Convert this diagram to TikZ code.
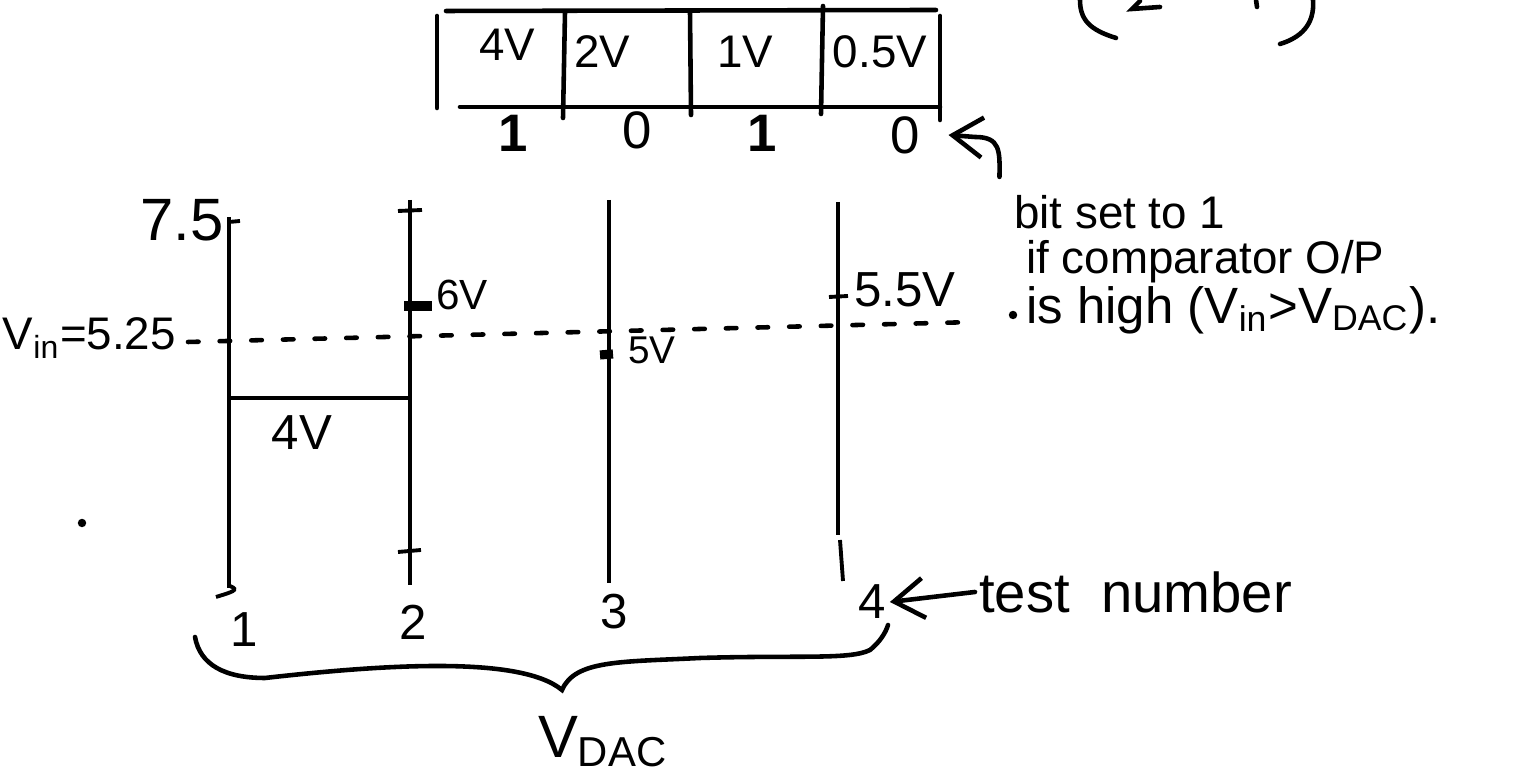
\documentclass[tikz,border=0pt]{standalone}
\usepackage{fontspec}
\setmainfont{Liberation Sans}
\usetikzlibrary{arrows.meta, positioning, calc}

\begin{document}
\begin{tikzpicture}[x=0.01cm, y=-0.01cm,
		pen/.style={line width=1.3pt, line cap=round},
		rail/.style={line width=1.1pt},
		thickmark/.style={line width=2.6pt},
		hand/.style={font=\fontsize{14}{16}\selectfont, inner sep=1pt},
		cellv/.style={font=\fontsize{13}{15}\selectfont, inner sep=1pt},
		bitv/.style={font=\fontsize{15}{16}\selectfont, inner sep=2pt},
		notev/.style={font=\fontsize{13}{15}\selectfont, inner sep=1pt, anchor=west},
		line/.style={-{Straight Barb[length=3mm, width=4mm]}, pen}
		]
		\useasboundingbox (0,0) rectangle (1518,771);
		
		% 1. Register
		\draw[pen] (446,11) -- (936,10);
		\draw[pen] (460,107) -- (940,107);
		\draw[pen] (437,16) -- (437,108);
		\draw[pen] (565,12) -- (563,118);
		\draw[pen] (690,12) -- (691,115);
		\draw[pen] (823,6) -- (821,114);
		\draw[pen] (940,16) -- (940,120);
		\node[cellv] (c4) at (507,45) {4V};
		\node[cellv] (c2) at (602,52) {2V};
		\node[cellv] (c1) at (745,52) {1V};
		\node[cellv] (c05) at (880,52) {0.5V};
		
		% 2. Bits
		\node[bitv] (b4) at (513,133) {\textbf{1}};
		\node[bitv] (b2) at (637,130) {0};
		\node[bitv] (b1) at (762,133) {\textbf{1}};
		\node[bitv] (b05) at (905,135) {0};
		
		% 3. Note
		\node[notev] (note1) at (1010,212) {bit set to 1};
		\node[notev] (note2) at (1022,262) {if comparator O/P};
		\node[notev, font=\fontsize{14.5}{17}\selectfont] (note3) at (1022,310) {is high (V\textsubscript{in}>V\textsubscript{DAC}).};
		\draw[line] ([xshift=-3pt, yshift=4pt]note1.north west)
		.. controls (1000,150) and (1000,137) .. (975,137) -- ([xshift=6pt]b05.east);
		
		% 4. Test rails
		\draw[rail] (229,217) -- (229,588);
		\draw[rail] (410,200) -- (410,585);
		\draw[rail] (609,200) -- (609,583);
		\draw[rail] (838,202) -- (838,535);
		\draw[rail] (840,540) -- (843,581);
		\draw[rail] (229,222) -- (240,221);
		\draw[rail] (398,211) -- (422,210);
		\draw[rail] (398,552) -- (421,550);
		\draw[rail] (216,597) .. controls (232,592) and (240,590) .. (230,586);
		\draw[thickmark] (404,306) -- (432,306);
		\draw[thickmark] (600,355) -- (613,354);
		\draw[rail] (829,297) -- (848,296);
		\draw[rail] (229,398) -- (412,398);
		\draw[pen, dash pattern=on 3pt off 6pt] (188,342) -- (975,322);
		
		% 5. Labels
		\node[hand, font=\fontsize{13}{15}\selectfont, anchor=east] (vin) at (180,338) {V\textsubscript{in}=5.25};
		\node[hand, font=\fontsize{17}{18}\selectfont] (top) at (182,220) {7.5};
		\node[hand, font=\fontsize{12}{14}\selectfont] (six) at (462,295) {6V};
		\node[hand, font=\fontsize{11}{13}\selectfont] (five) at (652,350) {5V};
		\node[hand] (fivehalf) at (905,290) {5.5V};
		\node[hand] (four) at (302,433) {4V};
		
		% 6. Test numbers
		\node[hand] (t1) at (244,630) {1};
		\node[hand] (t2) at (413,622) {2};
		\node[hand] (t3) at (614,612) {3};
		\node[hand] (t4) at (872,602) {4};
		\node[hand, font=\fontsize{16}{18}\selectfont, anchor=west] (tnum) at (975,592) {test\ \ number};
		\draw[line] (tnum.west) -- (t4.east);
		
		% 7. Brace and V_DAC
		\draw[pen] (195,637) .. controls (200,665) and (225,678) .. (265,678)
		.. controls (380,665) and (520,655) .. (562,690)
		.. controls (575,660) and (620,662) .. (700,658)
		.. controls (800,655) and (850,660) .. (870,650)
		.. controls (880,642) and (886,632) .. (888,625);
		\node[hand, font=\fontsize{17}{18}\selectfont] (vdac) at (603,742) {V\textsubscript{DAC}};
		
		% 8. Cut-off marks at the top edge
		\draw[pen] (1080,0) .. controls (1080,20) and (1090,30) .. (1116,38);
		\draw[pen] (1140,1) -- (1132,9) -- (1160,7);
		\draw[pen] (1256,0) -- (1257,7);
		\draw[pen] (1313,0) .. controls (1315,25) and (1300,38) .. (1280,44);
		\fill (82,523) circle (1.2pt);
		\fill (1013,315) circle (1.2pt);
	\end{tikzpicture}
\end{document}
